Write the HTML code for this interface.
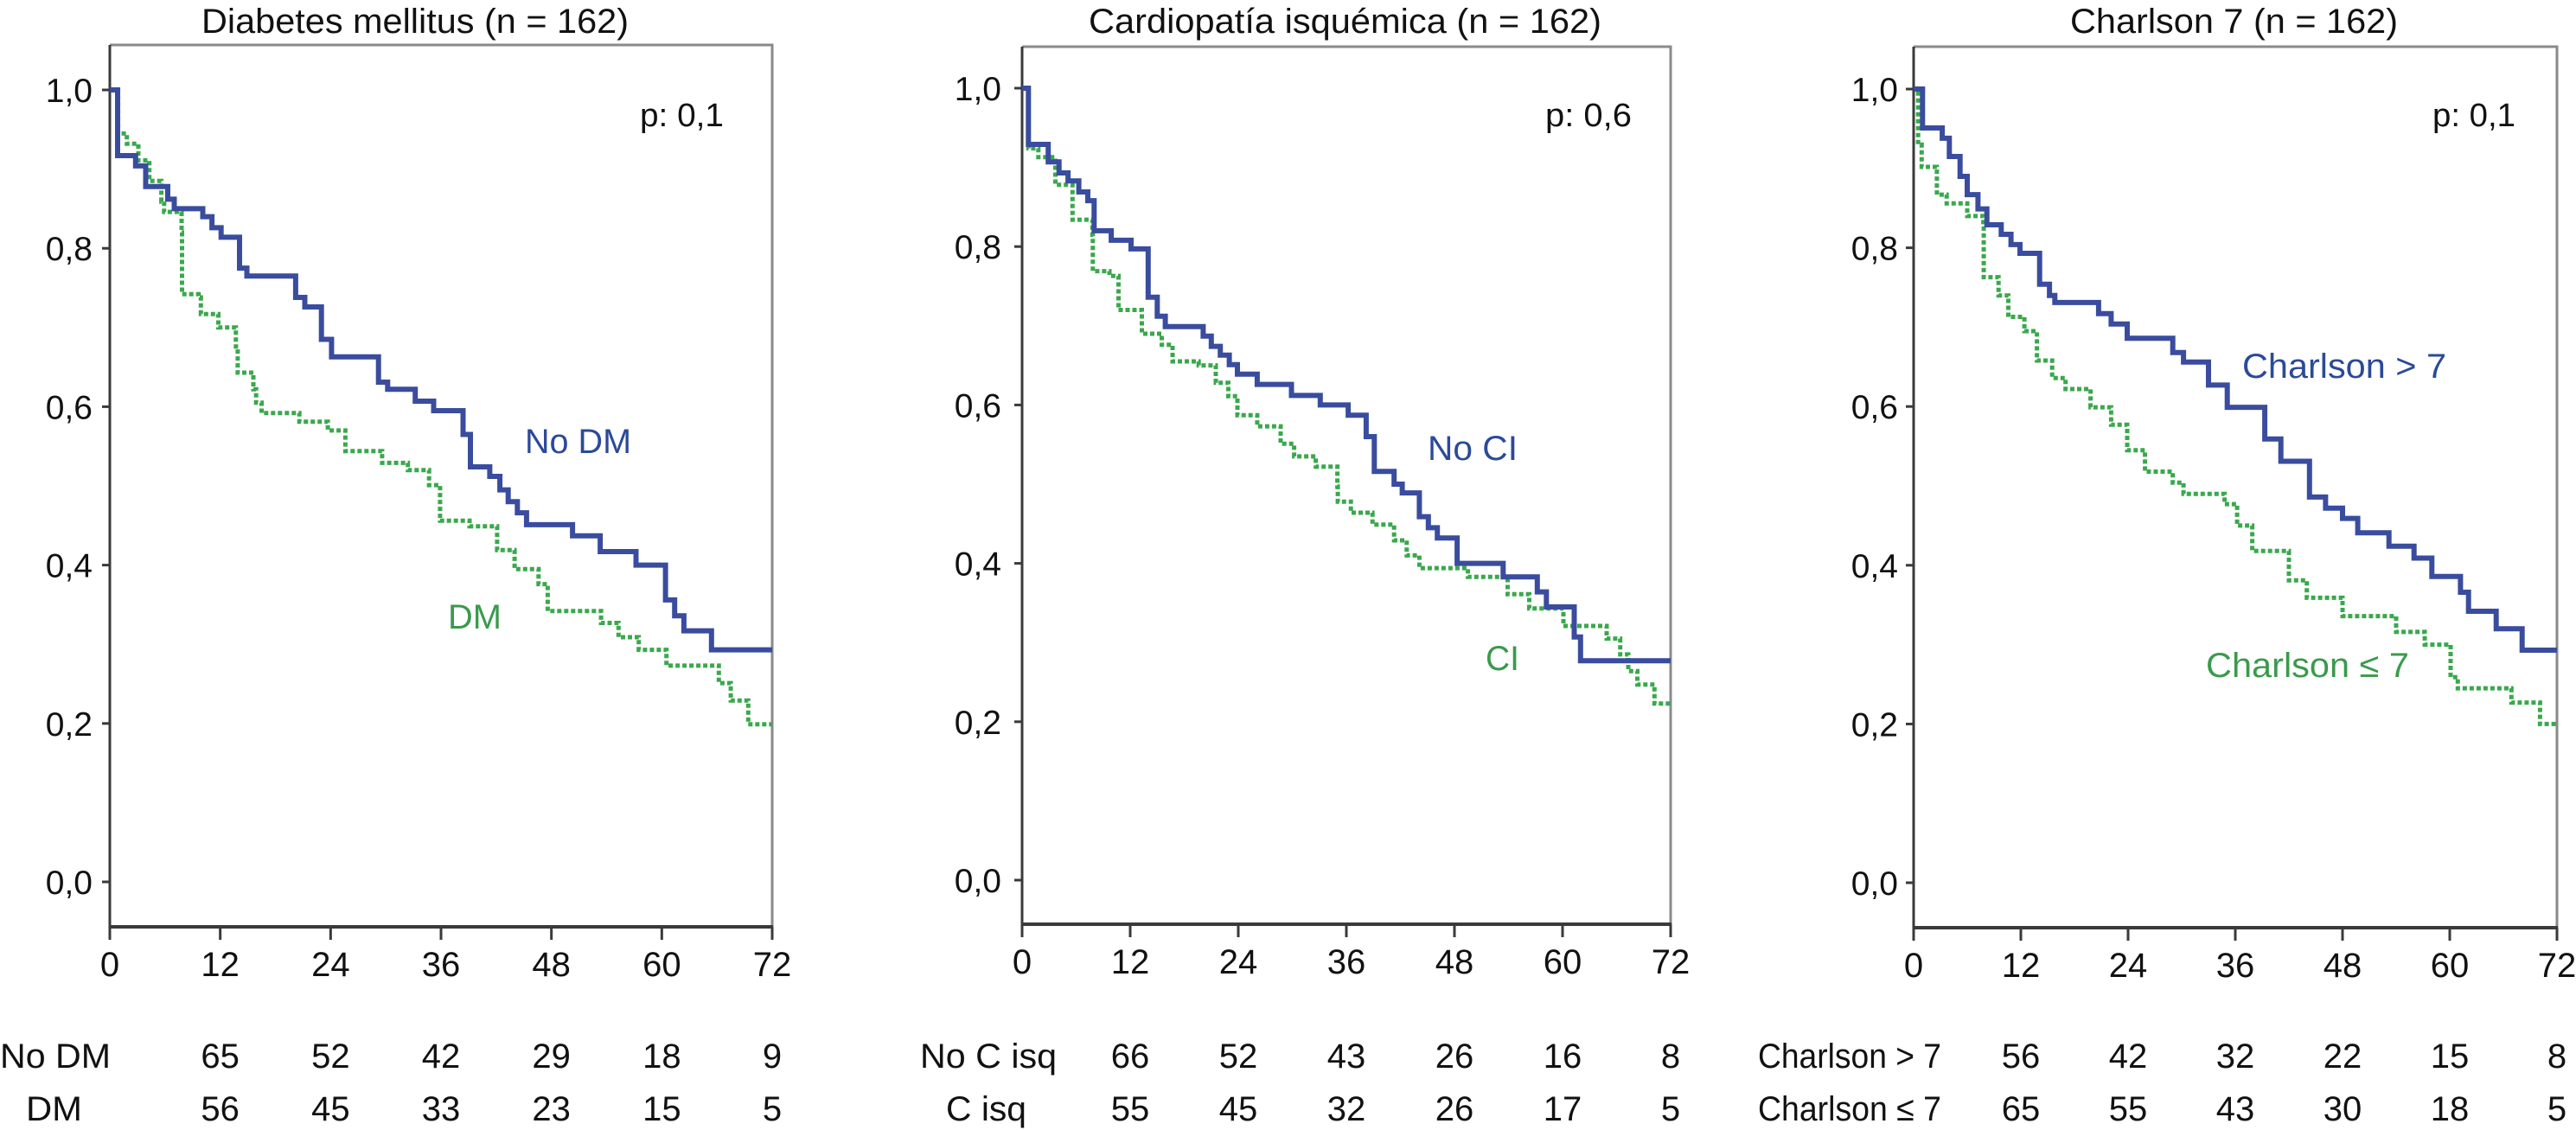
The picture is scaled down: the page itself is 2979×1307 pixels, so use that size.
<!DOCTYPE html>
<html><head><meta charset="utf-8"><style>
html,body{margin:0;padding:0;background:#fff;}
svg{display:block;font-family:"Liberation Sans",Arial,sans-serif;}
</style></head><body>
<svg id="chart" width="2979" height="1307" viewBox="0 0 2979 1307" xmlns="http://www.w3.org/2000/svg"></svg>
<script>
// ---- data ----
const xTicks = [0, 12, 24, 36, 48, 60, 72];
const yTicks = [0, 0.2, 0.4, 0.6, 0.8, 1.0];
const yTickLabels = ["0,0", "0,2", "0,4", "0,6", "0,8", "1,0"];

const p1Title = "Diabetes mellitus (n = 162)";
const p1BlueT = [0.85,2.8,3.9,6.3,7,10.1,11.1,12.1,14.1,14.9,20.2,21.2,23,24.1,29.2,30.2,33.2,35.2,38.4,39.2,41.3,42.4,43.3,44.3,45.3,50.3,53.3,57.2,60.4,61.4,62.4,65.4];
const p1BlueS = [0.917,0.904,0.878,0.862,0.850,0.840,0.826,0.814,0.775,0.765,0.738,0.726,0.685,0.663,0.631,0.622,0.607,0.595,0.565,0.524,0.512,0.495,0.480,0.466,0.451,0.437,0.417,0.400,0.356,0.336,0.317,0.293];
const p1GreenT = [0.9,1.85,3.1,4.3,5.6,5.9,7.8,7.85,9.65,9.9,11.8,13.7,13.9,15.6,15.9,16.5,20.6,23.7,25.6,29.6,32.4,34.7,35.9,39.1,42.1,44,46.6,47.6,53.4,55.3,57.5,60.5,66.2,67.5,69.4];
const p1GreenS = [0.945,0.932,0.911,0.885,0.859,0.846,0.820,0.742,0.738,0.717,0.700,0.673,0.643,0.622,0.605,0.592,0.581,0.570,0.544,0.529,0.520,0.501,0.456,0.449,0.419,0.395,0.376,0.342,0.327,0.309,0.293,0.273,0.251,0.229,0.199];
const p1RiskA = [65, 52, 42, 29, 18, 9];
const p1RiskB = [56, 45, 33, 23, 15, 5];

const p2Title = "Cardiopatía isquémica (n = 162)";
const p2BlueT = [0.7,2.9,4.1,5.1,6.3,7.3,8.0,9.9,12.1,14.0,15.0,15.9,20.1,21.0,22.0,23.0,23.9,26.1,29.9,33.1,36.2,38.2,39.1,41.3,42.2,44.1,45.1,46.1,48.3,53.4,57.2,58.2,61.3,62.0];
const p2BlueS = [0.929,0.907,0.893,0.883,0.869,0.858,0.820,0.808,0.797,0.736,0.712,0.699,0.687,0.674,0.663,0.651,0.639,0.626,0.612,0.600,0.587,0.560,0.516,0.500,0.489,0.459,0.445,0.432,0.400,0.383,0.364,0.345,0.307,0.277];
const p2GreenT = [0.7,1.8,3.7,5.6,7.8,7.85,9.7,10.7,13.3,15.5,16.7,19.6,21.5,22.9,23.9,26.1,28.7,30.2,32.6,35.0,35.05,36.5,38.9,41.3,42.7,44.1,49.5,53.9,56.3,60.1,64.9,66.4,67.3,68.3,70.2];
const p2GreenS = [0.924,0.913,0.878,0.834,0.815,0.769,0.763,0.720,0.690,0.676,0.655,0.650,0.628,0.611,0.587,0.573,0.551,0.535,0.522,0.497,0.478,0.464,0.449,0.429,0.410,0.394,0.383,0.361,0.343,0.321,0.305,0.285,0.264,0.247,0.223];
const p2RiskA = [66, 52, 43, 26, 16, 8];
const p2RiskB = [55, 45, 32, 26, 17, 5];

const p3Title = "Charlson 7 (n = 162)";
const p3BlueT = [1.0,3.2,4.0,5.2,6.0,7.2,8.2,9.8,10.9,11.9,14.1,15.2,15.8,20.7,22.1,23.9,29.0,30.2,33.0,35.1,39.3,41.1,44.3,46.1,48.0,49.7,53.2,56.0,58.0,61.2,62.1,65.2,68.1];
const p3BlueS = [0.951,0.938,0.915,0.890,0.867,0.849,0.829,0.817,0.804,0.793,0.754,0.740,0.731,0.717,0.704,0.686,0.668,0.656,0.627,0.599,0.559,0.531,0.486,0.472,0.459,0.441,0.424,0.409,0.386,0.366,0.342,0.320,0.293];
const p3GreenT = [0.5,0.9,2.6,3.7,6.0,7.8,7.85,9.5,10.6,12.4,13.8,15.5,17.0,19.8,22.1,23.9,25.9,29.0,30.2,34.8,36.2,37.9,42.0,44.0,48.0,54.0,57.2,60.1,60.9,66.9,70.1];
const p3GreenS = [0.930,0.902,0.867,0.856,0.840,0.827,0.763,0.740,0.713,0.695,0.658,0.636,0.622,0.599,0.577,0.545,0.518,0.504,0.490,0.477,0.450,0.418,0.381,0.359,0.336,0.316,0.300,0.259,0.245,0.227,0.200];
const p3RiskA = [56, 42, 32, 22, 15, 8];
const p3RiskB = [65, 55, 43, 30, 18, 5];

// ---- layout ----
const panels = [
  {id:"diabetes", title:p1Title, tx:233, tw:494, x0:127, x1:893, yTop:52, y1:104, y0:1020, yBot:1072, ylabR:107,
   bT:p1BlueT, bS:p1BlueS, gT:p1GreenT, gS:p1GreenS, p:"p: 0,1", px:740, pw:97,
   bl:{t:"No DM", x:607, y:524, w:123}, gl:{t:"DM", x:518, y:727, w:62},
   rA:p1RiskA, rB:p1RiskB, rlA:{t:"No DM", x:0, w:128}, rlB:{t:"DM", x:30, w:65}},
  {id:"cardiopatia", title:p2Title, tx:1259, tw:593, x0:1182, x1:1932, yTop:54, y1:102, y0:1018, yBot:1069, ylabR:1158,
   bT:p2BlueT, bS:p2BlueS, gT:p2GreenT, gS:p2GreenS, p:"p: 0,6", px:1787, pw:100,
   bl:{t:"No CI", x:1651, y:532, w:104}, gl:{t:"CI", x:1718, y:775, w:39},
   rA:p2RiskA, rB:p2RiskB, rlA:{t:"No C isq", x:1064, w:158}, rlB:{t:"C isq", x:1094, w:93}},
  {id:"charlson", title:p3Title, tx:2394, tw:379, x0:2213, x1:2957, yTop:54, y1:103, y0:1021, yBot:1073, ylabR:2195,
   bT:p3BlueT, bS:p3BlueS, gT:p3GreenT, gS:p3GreenS, p:"p: 0,1", px:2813, pw:96,
   bl:{t:"Charlson > 7", x:2593, y:437, w:236}, gl:{t:"Charlson ≤ 7", x:2551, y:783, w:235},
   rA:p3RiskA, rB:p3RiskB, rlA:{t:"Charlson > 7", x:2033, w:212}, rlB:{t:"Charlson ≤ 7", x:2033, w:212}}
];
const BLUE = "#3a4c9e", GREEN = "#3aa84c", BLUE_T = "#2b4a98", GREEN_T = "#3a9a4c";
const NS = "http://www.w3.org/2000/svg";
const svg = document.getElementById("chart");

function mk(tag, attrs, parent) {
  const e = document.createElementNS(NS, tag);
  for (const k in attrs) e.setAttribute(k, attrs[k]);
  (parent || svg).appendChild(e);
  return e;
}
function txt(parent, s, x, y, size, fill, anchor, w) {
  const a = {x:x, y:y, "font-size":size, fill:fill, "text-anchor":anchor || "start"};
  if (w) { a.textLength = w; a.lengthAdjust = "spacingAndGlyphs"; }
  const t = mk("text", a, parent);
  t.textContent = s;
  return t;
}

panels.forEach(P => {
  const g = mk("g", {});
  
  
  const xs = m => P.x0 + (m / 72) * (P.x1 - P.x0);
  const ys = s => P.y0 - s * (P.y0 - P.y1);

  const title = txt(g, P.title, P.tx, 38, 40, "#111", "start", P.tw);
  
  

  // frame
  const fr = mk("path", {d:`M${P.x0} ${P.yTop} H${P.x1} V${P.yBot}`, fill:"none", stroke:"#8a8a8a", "stroke-width":3}, g);
  
  
  const ya = mk("line", {x1:P.x0, y1:P.yTop, x2:P.x0, y2:P.yBot, stroke:"#3a3a3a", "stroke-width":3}, g);
  
  
  const xa = mk("line", {x1:P.x0 - 1, y1:P.yBot, x2:P.x1 + 1, y2:P.yBot, stroke:"#3a3a3a", "stroke-width":4}, g);
  
  

  yTicks.forEach((v, i) => {
    const y = ys(v);
    const tk = mk("line", {x1:P.x0 - 9, y1:y, x2:P.x0, y2:y, stroke:"#3a3a3a", "stroke-width":3}, g);
    
    
    const lb = txt(g, yTickLabels[i], P.ylabR, y + 14, 39, "#111", "end");
    
    
  });
  xTicks.forEach(v => {
    const x = xs(v);
    const tk = mk("line", {x1:x, y1:P.yBot, x2:x, y2:P.yBot + 15, stroke:"#3a3a3a", "stroke-width":3}, g);
    
    
    const lb = txt(g, String(v), x, P.yBot + 57, 40, "#111", "middle");
    
    
  });

  function stepPath(T, S) {
    let d = `M${xs(0)} ${ys(1)}`;
    for (let i = 0; i < T.length; i++) d += ` H${xs(T[i]).toFixed(1)} V${ys(S[i]).toFixed(1)}`;
    return d + ` H${xs(72)}`;
  }
  const gc = mk("path", {d:stepPath(P.gT, P.gS), fill:"none", stroke:GREEN, "stroke-width":5, "stroke-dasharray":"5 3"}, g);
  
  
  const bc = mk("path", {d:stepPath(P.bT, P.bS), fill:"none", stroke:BLUE, "stroke-width":6}, g);
  
  

  const pl = txt(g, P.p, P.px, 146, 38, "#111", "start", P.pw);
  
  
  const bl = txt(g, P.bl.t, P.bl.x, P.bl.y, 40, BLUE_T, "start", P.bl.w);
  
  
  const gl = txt(g, P.gl.t, P.gl.x, P.gl.y, 40, GREEN_T, "start", P.gl.w);
  
  

  const ra = txt(g, P.rlA.t, P.rlA.x, 1235, 40, "#111", "start", P.rlA.w);
  
  
  const rb = txt(g, P.rlB.t, P.rlB.x, 1296, 40, "#111", "start", P.rlB.w);
  
  
  P.rA.forEach((v, i) => {
    const t = txt(g, String(v), xs(xTicks[i + 1]), 1235, 40, "#111", "middle");
    
    
  });
  P.rB.forEach((v, i) => {
    const t = txt(g, String(v), xs(xTicks[i + 1]), 1296, 40, "#111", "middle");
    
    
  });
});
</script>
</body></html>
